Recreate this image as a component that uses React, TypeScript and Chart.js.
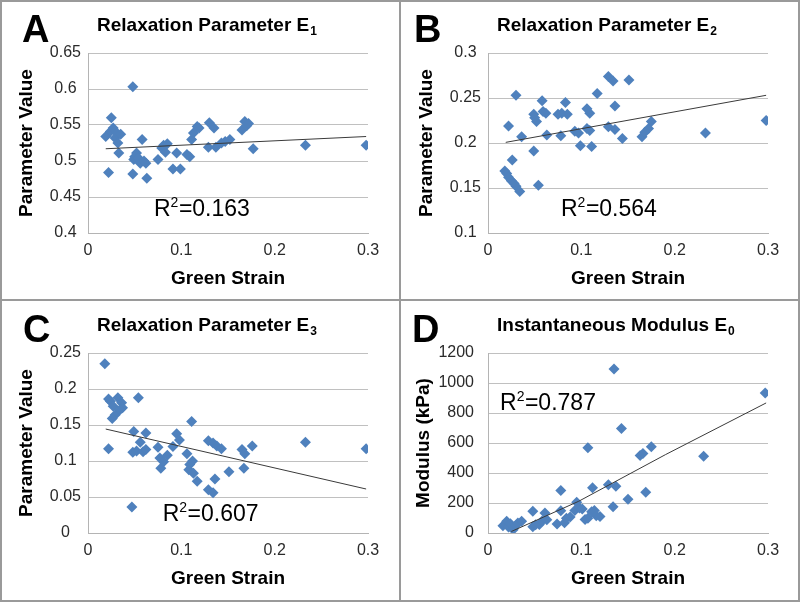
import React, { useEffect, useRef } from 'react';
import { Chart, registerables } from 'chart.js';

Chart.register(...registerables);

const FONT = "'Liberation Sans', Arial, Helvetica, sans-serif";
const BLUE = '#4F81BD';
const GRID = '#c0c0c0';
const TICK_COLOR = '#2a2a2a';

// ---------- Panel A : Relaxation Parameter E1 ----------
const strainA = [0.019, 0.022, 0.024, 0.025, 0.027, 0.029, 0.031, 0.032, 0.033, 0.035,
  0.048, 0.048, 0.049, 0.050, 0.052, 0.054, 0.056, 0.058, 0.060, 0.062,
  0.063, 0.075, 0.079, 0.081, 0.083, 0.085, 0.091, 0.095, 0.099, 0.106,
  0.109, 0.111, 0.113, 0.117, 0.119, 0.130, 0.135, 0.129, 0.137, 0.143,
  0.147, 0.152, 0.165, 0.168, 0.170, 0.172, 0.177, 0.233, 0.298];
const e1 = [0.534, 0.484, 0.541, 0.560, 0.546, 0.532, 0.539, 0.525, 0.511, 0.537,
  0.603, 0.482, 0.502, 0.506, 0.511, 0.504, 0.497, 0.530, 0.500, 0.497,
  0.476, 0.502, 0.518, 0.522, 0.512, 0.524, 0.489, 0.511, 0.489, 0.509,
  0.506, 0.530, 0.539, 0.548, 0.546, 0.553, 0.546, 0.519, 0.519, 0.525,
  0.527, 0.530, 0.543, 0.555, 0.549, 0.552, 0.517, 0.522, 0.522];
const trendStrain = [0.019, 0.298];
const trendE1 = [0.517, 0.534];
const ticksE1 = [0.4, 0.45, 0.5, 0.55, 0.6, 0.65];

// ---------- Panel B : Relaxation Parameter E2 ----------
const strainB = [0.030, 0.022, 0.036, 0.026, 0.018, 0.020, 0.022, 0.025, 0.028, 0.030,
  0.034, 0.049, 0.054, 0.049, 0.052, 0.050, 0.058, 0.059, 0.062, 0.063,
  0.075, 0.079, 0.083, 0.085, 0.078, 0.093, 0.097, 0.099, 0.106, 0.109,
  0.109, 0.111, 0.106, 0.117, 0.129, 0.134, 0.136, 0.129, 0.136, 0.144,
  0.151, 0.165, 0.168, 0.172, 0.175, 0.233, 0.298];
const e2 = [0.253, 0.219, 0.207, 0.181, 0.169, 0.166, 0.162, 0.158, 0.155, 0.152,
  0.146, 0.191, 0.153, 0.232, 0.224, 0.228, 0.247, 0.235, 0.233, 0.209,
  0.232, 0.233, 0.245, 0.232, 0.208, 0.213, 0.211, 0.197, 0.238, 0.233,
  0.214, 0.196, 0.216, 0.255, 0.274, 0.269, 0.241, 0.218, 0.215, 0.205,
  0.270, 0.207, 0.212, 0.216, 0.224, 0.211, 0.225];
const trendE2 = [0.2007, 0.253];
const ticksE2 = [0.1, 0.15, 0.2, 0.25, 0.3];

// ---------- Panel C : Relaxation Parameter E3 ----------
const strainC = [0.018, 0.022, 0.024, 0.027, 0.032, 0.036, 0.037, 0.029, 0.026, 0.034,
  0.022, 0.054, 0.049, 0.062, 0.048, 0.052, 0.056, 0.059, 0.062, 0.075,
  0.077, 0.078, 0.081, 0.085, 0.095, 0.098, 0.091, 0.106, 0.109, 0.111,
  0.112, 0.108, 0.113, 0.117, 0.129, 0.134, 0.138, 0.143, 0.136, 0.129,
  0.134, 0.151, 0.165, 0.168, 0.167, 0.176, 0.047, 0.233, 0.298];
const e3 = [0.235, 0.186, 0.183, 0.176, 0.188, 0.181, 0.174, 0.164, 0.159, 0.171,
  0.117, 0.188, 0.141, 0.139, 0.112, 0.114, 0.126, 0.113, 0.116, 0.119,
  0.104, 0.090, 0.099, 0.108, 0.138, 0.129, 0.120, 0.110, 0.095, 0.155,
  0.100, 0.088, 0.083, 0.072, 0.128, 0.125, 0.121, 0.117, 0.075, 0.060,
  0.056, 0.085, 0.116, 0.110, 0.090, 0.121, 0.036, 0.126, 0.117];
const trendE3 = [0.1444, 0.0611];
const ticksE3 = [0, 0.05, 0.1, 0.15, 0.2, 0.25];

// ---------- Panel D : Instantaneous Modulus E0 ----------
const strainD = [0.016, 0.020, 0.022, 0.024, 0.027, 0.030, 0.032, 0.036, 0.048, 0.048,
  0.051, 0.055, 0.058, 0.061, 0.063, 0.074, 0.078, 0.078, 0.082, 0.084,
  0.088, 0.093, 0.095, 0.098, 0.101, 0.104, 0.107, 0.107, 0.111, 0.112,
  0.114, 0.116, 0.120, 0.129, 0.135, 0.134, 0.137, 0.143, 0.150, 0.163,
  0.166, 0.169, 0.175, 0.231, 0.297];
const modulus = [48, 78, 40, 62, 22, 50, 67, 78, 145, 42,
  55, 56, 80, 133, 89, 60, 284, 148, 69, 98,
  107, 150, 205, 167, 160, 90, 569, 98, 142, 302,
  150, 115, 110, 322, 1093, 175, 311, 696, 225, 516,
  530, 271, 575, 511, 933];
const trendStrainD = [0.025, 0.097, 0.19, 0.298];
const trendModulus = [10, 211, 522, 867];
const ticksModulus = [0, 200, 400, 600, 800, 1000, 1200];

const strainTicks = [0, 0.1, 0.2, 0.3];

const toPoints = (xs: number[], ys: number[]) => xs.map((x, i) => ({ x, y: ys[i] }));

const decorPlugin = {
  id: 'decor',
  afterDraw(chart: any, _args: any, opts: any) {
    const { ctx, scales } = chart;
    ctx.save();
    ctx.fillStyle = '#000';
    ctx.textAlign = 'left';
    ctx.textBaseline = 'alphabetic';
    // panel letter
    ctx.font = `bold 38px ${FONT}`;
    ctx.fillText(opts.letter, opts.letterX, 42);
    // title with subscript
    ctx.font = `bold 19px ${FONT}`;
    ctx.fillText(opts.title, 97, 31);
    const tw = ctx.measureText(opts.title).width;
    ctx.font = `bold 12px ${FONT}`;
    ctx.fillText(opts.sub, 97 + tw + 1, 35);
    // R^2 annotation
    const x = scales.x.getPixelForValue(opts.r2x);
    const y = scales.y.getPixelForValue(opts.r2y);
    ctx.font = `23px ${FONT}`;
    ctx.fillText('R', x, y);
    let cx = x + ctx.measureText('R').width;
    ctx.font = `14px ${FONT}`;
    ctx.fillText('2', cx, y - 9);
    cx += ctx.measureText('2').width + 0.5;
    ctx.font = `23px ${FONT}`;
    ctx.fillText('=' + opts.r2, cx, y);
    ctx.restore();
  },
};

type PanelCfg = {
  letter: string; letterX: number; title: string; sub: string;
  xs: number[]; ys: number[]; tx: number[]; ty: number[];
  yTicks: number[]; yMin: number; yMax: number; yTitle: string; yTitlePad: number;
  yCross: 'near' | 'center'; yPad: number;
  r2: string; r2x: number; r2y: number;
  left: number; top: number; w: number; h: number; xTitlePad: number;
};

const panels: PanelCfg[] = [
  { letter: 'A', letterX: 22, title: 'Relaxation Parameter E', sub: '1', xs: strainA, ys: e1, tx: trendStrain, ty: trendE1,
    yTicks: ticksE1, yMin: 0.4, yMax: 0.65, yTitle: 'Parameter Value', yTitlePad: 15, yCross: 'center', yPad: 7,
    r2: '0.163', r2x: 0.0707, r2y: 0.4231, left: 0, top: 0, w: 400, h: 300, xTitlePad: 10 },
  { letter: 'B', letterX: 14, title: 'Relaxation Parameter E', sub: '2', xs: strainB, ys: e2, tx: trendStrain, ty: trendE2,
    yTicks: ticksE2, yMin: 0.1, yMax: 0.3, yTitle: 'Parameter Value', yTitlePad: 15, yCross: 'center', yPad: 7,
    r2: '0.564', r2x: 0.0782, r2y: 0.1184, left: 400, top: 0, w: 400, h: 300, xTitlePad: 10 },
  { letter: 'C', letterX: 23, title: 'Relaxation Parameter E', sub: '3', xs: strainC, ys: e3, tx: trendStrain, ty: trendE3,
    yTicks: ticksE3, yMin: 0, yMax: 0.25, yTitle: 'Parameter Value', yTitlePad: 15, yCross: 'center', yPad: 7,
    r2: '0.607', r2x: 0.080, r2y: 0.0161, left: 0, top: 300, w: 400, h: 302, xTitlePad: 12 },
  { letter: 'D', letterX: 12, title: 'Instantaneous Modulus E', sub: '0', xs: strainD, ys: modulus, tx: trendStrainD, ty: trendModulus,
    yTicks: ticksModulus, yMin: 0, yMax: 1200, yTitle: 'Modulus (kPa)', yTitlePad: 12, yCross: 'near', yPad: 14,
    r2: '0.787', r2x: 0.0129, r2y: 822, left: 400, top: 300, w: 400, h: 302, xTitlePad: 12 },
];

function Panel({ cfg }: { cfg: PanelCfg }) {
  const ref = useRef<HTMLCanvasElement>(null);
  useEffect(() => {
    const canvas = ref.current!;
    const chart = new Chart(canvas, {
      type: 'scatter',
      data: {
        datasets: [
          {
            data: toPoints(cfg.tx, cfg.ty),
            showLine: true,
            borderColor: '#3a3a3a',
            borderWidth: 1,
            pointRadius: 0,
            order: 0,
          } as any,
          {
            data: toPoints(cfg.xs, cfg.ys),
            pointStyle: 'rectRot',
            pointRadius: 5.5,
            backgroundColor: BLUE,
            borderColor: BLUE,
            borderWidth: 0,
            order: 1,
          } as any,
        ],
      },
      options: {
        animation: false,
        responsive: false,
        events: [],
        layout: { padding: { top: 53, right: 32, left: 0, bottom: 0 } },
        plugins: {
          legend: { display: false },
          tooltip: { enabled: false },
          decor: {
            letter: cfg.letter, letterX: cfg.letterX, title: cfg.title, sub: cfg.sub,
            r2: cfg.r2, r2x: cfg.r2x, r2y: cfg.r2y,
          },
        } as any,
        scales: {
          x: {
            type: 'linear',
            min: 0,
            max: 0.3,
            afterBuildTicks: (s: any) => { s.ticks = strainTicks.map((v) => ({ value: v })); },
            afterFit: (s: any) => { s.height = cfg.h - 233; },
            ticks: {
              padding: 8,
              color: TICK_COLOR,
              font: { family: FONT, size: 16 },
              maxRotation: 0,
              callback: (v: any) => String(v),
            },
            grid: { display: false, drawTicks: false },
            border: { display: true, color: '#b4b4b4', width: 1 },
            title: {
              display: true,
              text: 'Green Strain',
              color: '#000',
              font: { family: FONT, size: 19, weight: 'bold' },
              padding: { top: 0, bottom: cfg.xTitlePad },
            },
          },
          y: {
            type: 'linear',
            min: cfg.yMin,
            max: cfg.yMax,
            afterBuildTicks: (s: any) => { s.ticks = cfg.yTicks.map((v) => ({ value: v })); },
            afterFit: (s: any) => { s.width = 88; },
            ticks: {
              padding: cfg.yPad,
              crossAlign: cfg.yCross,
              color: TICK_COLOR,
              font: { family: FONT, size: 16 },
              callback: (v: any) => String(v),
            },
            grid: { display: true, drawTicks: false, color: GRID, lineWidth: 1 },
            border: { display: true, color: '#b4b4b4', width: 1 },
            title: {
              display: true,
              text: cfg.yTitle,
              color: '#000',
              font: { family: FONT, size: 19, weight: 'bold' },
              padding: { top: cfg.yTitlePad, bottom: 0 },
            },
          },
        },
      } as any,
      plugins: [decorPlugin],
    });
    return () => chart.destroy();
  }, [cfg]);
  return (
    <canvas
      ref={ref}
      width={cfg.w}
      height={cfg.h}
      style={{ position: 'absolute', left: cfg.left, top: cfg.top }}
    />
  );
}

const LINE = '#9a9a9a';

export default function App() {
  const line = (s: React.CSSProperties) => (
    <div style={{ position: 'absolute', background: LINE, ...s }} />
  );
  return (
    <div style={{ position: 'absolute', left: 0, top: 0, width: 800, height: 602, background: '#fff', overflow: 'hidden' }}>
      {panels.map((p) => <Panel key={p.letter} cfg={p} />)}
      {line({ left: 0, top: 0, width: 800, height: 2 })}
      {line({ left: 0, top: 600, width: 800, height: 2 })}
      {line({ left: 0, top: 0, width: 2, height: 602 })}
      {line({ left: 798, top: 0, width: 2, height: 602 })}
      {line({ left: 399, top: 0, width: 2, height: 602 })}
      {line({ left: 0, top: 299, width: 800, height: 2 })}
    </div>
  );
}
